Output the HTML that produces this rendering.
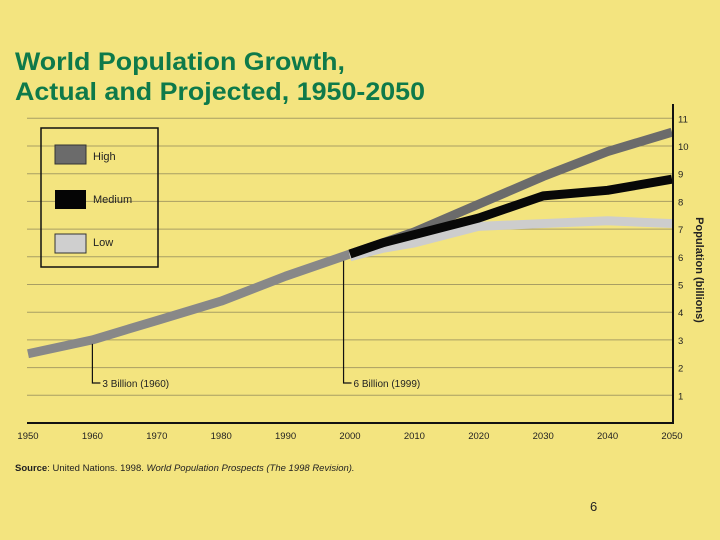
<!DOCTYPE html>
<html><head><meta charset="utf-8"><style>
html,body{margin:0;padding:0;background:#f3e47f;}
body{width:720px;height:540px;overflow:hidden;position:relative;font-family:"Liberation Sans",sans-serif;}
</style></head><body>
<svg id="chart" width="720" height="540" xmlns="http://www.w3.org/2000/svg" style="position:absolute;left:0;top:0">
<text x="15" y="70" font-size="25" font-weight="bold" fill="#0e7a4a" textLength="330" lengthAdjust="spacingAndGlyphs">World Population Growth,</text>
<text x="15" y="100" font-size="25" font-weight="bold" fill="#0e7a4a" textLength="410" lengthAdjust="spacingAndGlyphs">Actual and Projected, 1950-2050</text>
<g id="grid"></g>
<g id="series"></g>
<g id="axes"></g>
<g>
<rect x="41" y="128" width="117" height="139" fill="none" stroke="#111" stroke-width="1.5"/>
<rect x="55" y="145" width="31" height="19" fill="#6b6b6b" stroke="#333"/>
<text x="93" y="160" font-size="11" fill="#222">High</text>
<rect x="55" y="190" width="31" height="19" fill="#050505"/>
<text x="93" y="203" font-size="11" fill="#222">Medium</text>
<rect x="55" y="234" width="31" height="19" fill="#cfcfcf" stroke="#333"/>
<text x="93" y="246" font-size="11" fill="#222">Low</text>
</g>
<g id="annot"></g>
<text transform="translate(696,270) rotate(90)" text-anchor="middle" font-size="11" font-weight="bold" fill="#222">Population (billions)</text>
<text x="15" y="471" font-size="9.5" fill="#222"><tspan font-weight="bold">Source</tspan>: United Nations. 1998. <tspan font-style="italic">World Population Prospects (The 1998 Revision).</tspan></text>
<text x="590" y="511" font-size="13" fill="#222">6</text>
</svg>
<script>
const actualYears=[1950,1960,1970,1980,1990,2000];
const actualVals=[2.5,3.0,3.7,4.4,5.3,6.1];
const projYears=[2000,2005,2010,2020,2030,2040,2050];
const highVals=[6.1,6.5,6.9,7.9,8.9,9.8,10.5];
const mediumVals=[6.1,6.5,6.8,7.4,8.2,8.4,8.8];
const lowVals=[6.0,6.3,6.5,7.1,7.2,7.3,7.2];
const xTicks=[1950,1960,1970,1980,1990,2000,2010,2020,2030,2040,2050];
const yTicks=[1,2,3,4,5,6,7,8,9,10,11];
const annotations=[{year:1960,value:3.0,label:"3 Billion (1960)"},{year:1999,value:6.0,label:"6 Billion (1999)"}];

const NS="http://www.w3.org/2000/svg";
const X0=28,X1=672,Y0=423,YS=27.7;
function xs(y){return X0+(y-1950)*(X1-X0)/100;}
function ys(v){return Y0-v*YS;}
function mk(tag,attrs,parent){const e=document.createElementNS(NS,tag);for(const k in attrs)e.setAttribute(k,attrs[k]);parent.appendChild(e);return e;}
const grid=document.getElementById('grid'),axes=document.getElementById('axes'),series=document.getElementById('series'),annot=document.getElementById('annot');
yTicks.forEach(v=>{
 const l=mk('line',{x1:27,x2:X1,y1:ys(v),y2:ys(v),stroke:'#a89e63','stroke-width':1},grid);
 
 
 const t=mk('text',{x:X1+6,y:ys(v)+4,'font-size':9.5,fill:'#222'},axes);
 t.textContent=v;
 
 
});
xTicks.forEach(yr=>{
 const t=mk('text',{x:xs(yr),y:439,'font-size':9.5,fill:'#222','text-anchor':'middle'},axes);
 t.textContent=yr;
 
 
});
const xa=mk('line',{x1:27,x2:X1+1,y1:Y0,y2:Y0,stroke:'#111','stroke-width':2},axes);


const ya=mk('line',{x1:X1+1,x2:X1+1,y1:104,y2:Y0+1,stroke:'#111','stroke-width':2},axes);


function pts(years,vals){return years.map((y,i)=>xs(y)+','+ys(vals[i])).join(' ');}
const defs=[['series-low',lowVals,'#cdcdcd'],['series-high',highVals,'#6b6b6b'],['series-medium',mediumVals,'#080808']];
const a=mk('polyline',{points:pts(actualYears,actualVals),fill:'none',stroke:'#888888','stroke-width':9,'stroke-linejoin':'round'},series);


defs.forEach(d=>{
 const p=mk('polyline',{points:pts(projYears,d[1]),fill:'none',stroke:d[2],'stroke-width':9,'stroke-linejoin':'round','stroke-linecap':'butt'},series);
 
 
});
annotations.forEach((an,i)=>{
 const x=xs(an.year);
 const p=mk('polyline',{points:x+','+(ys(an.value)+4)+' '+x+',383 '+(x+8)+',383',fill:'none',stroke:'#111','stroke-width':1.2},annot);
 
 
 const t=mk('text',{x:x+10,y:387,'font-size':10,fill:'#222'},annot);
 t.textContent=an.label;
 
 
});
</script>
</body></html>
